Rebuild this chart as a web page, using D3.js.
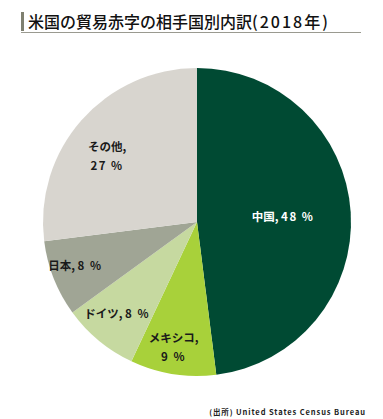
<!DOCTYPE html>
<html><head><meta charset="utf-8">
<script src="https://cdn.jsdelivr.net/npm/d3@7"></script>
<style>
body{margin:0;background:#fff;}
svg{display:block;font-family:"Noto Sans CJK JP","Noto Sans",sans-serif;}
</style></head>
<body>
<svg id="c" width="383" height="419"></svg>
<script>
const categories = ["中国", "メキシコ", "ドイツ", "日本", "その他"];
const values = [48, 9, 8, 8, 27];
const colors = ["#004a33", "#a8d13a", "#c6d9a0", "#a0a595", "#d8d5cf"];
const titleMain = "米国の貿易赤字の相手国別内訳";
const titleYear = "(2018年)";
const source = "(出所)  United States Census Bureau";

const svg = d3.select("#c");
const cx = 197, cy = 222, R = 154;

// title
svg.append("rect").attr("x", 21).attr("y", 12).attr("width", 3).attr("height", 19).attr("fill", "#7f8070");
const tt = svg.append("text").attr("x", 28).attr("y", 28).attr("font-size", 16).attr("font-weight", 500)
  .attr("fill", "#111");
tt.append("tspan").text(titleMain);
tt.append("tspan").attr("letter-spacing", 2).text(titleYear);
svg.append("line").attr("x1", 21).attr("x2", 361).attr("y1", 32.5).attr("y2", 32.5)
  .attr("stroke", "#9a9a90").attr("stroke-width", 1.2);

const data = categories.map((c, i) => ({cat: c, val: values[i], color: colors[i]}));
const pie = d3.pie().sort(null).value(d => d.val);
const arcs = pie(data);
const arc = d3.arc().innerRadius(0).outerRadius(R);
const g = svg.append("g").attr("transform", `translate(${cx},${cy})`);
g.selectAll("path").data(arcs).join("path").attr("d", arc).attr("fill", d => d.data.color);

// label placement factors (fraction of radius) and line splitting
const labelR = {"中国": 0.56, "メキシコ": 0.82, "ドイツ": 0.79, "日本": 0.84, "その他": 0.73};
const twoLine = {"メキシコ": true, "その他": true};
const angleShift = {"ドイツ": 0.025, "日本": 0.03, "その他": -0.08, "メキシコ": 0.03};

arcs.forEach(a => {
  const name = a.data.cat;
  const mid = (a.startAngle + a.endAngle) / 2 + (angleShift[name] || 0);
  const r = R * labelR[name];
  const x = Math.sin(mid) * r, y = -Math.cos(mid) * r;
  const fill = name === "中国" ? "#ffffff" : "#1a1a1a";
  const t = g.append("text").attr("text-anchor", "middle").attr("font-size", 11.5)
    .attr("font-weight", 700).attr("fill", fill);
  if (twoLine[name]) {
    t.append("tspan").attr("x", x).attr("y", y - 4).text(name + ",");
    t.append("tspan").attr("x", x).attr("y", y + 15).attr("letter-spacing", 1.5).text(a.data.val + " %");
  } else {
    t.attr("x", x).attr("y", y + 4);
    t.append("tspan").text(name + ", ");
    t.append("tspan").attr("letter-spacing", 1.5).text(a.data.val + " %");
  }
});

svg.append("text").attr("x", 366).attr("y", 415).attr("text-anchor", "end")
  .attr("font-size", 7.5).attr("font-weight", 700).attr("letter-spacing", 0.9).attr("fill", "#222")
  .text(source);
</script>
</body></html>
